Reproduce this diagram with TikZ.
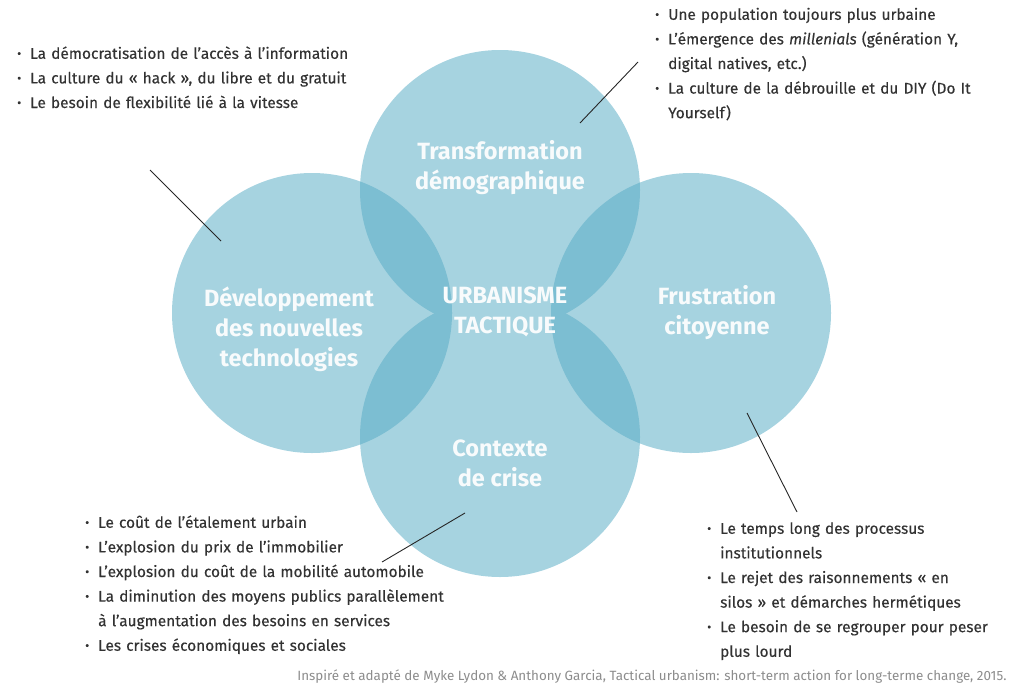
\documentclass[tikz,border=0pt]{standalone}
\usepackage{fontspec}
\setmainfont{Fira Sans}
\newfontfamily\bodyfont{Fira Sans}[FakeBold=0.3]
\usepackage{enumitem}
\usetikzlibrary{positioning}
\definecolor{venn}{RGB}{166,211,224}
\definecolor{vennlens}{RGB}{124,190,210}
\definecolor{txt}{RGB}{50,50,50}
\definecolor{src}{RGB}{140,140,140}
\setlist[itemize]{label={\raisebox{1pt}{\scalebox{0.8}{\textbullet}}},leftmargin=18pt,labelsep=9pt,itemsep=0pt,topsep=0pt,parsep=0pt,partopsep=0pt}
\tikzset{
  venn/.style={circle,minimum size=280pt,inner sep=0pt,fill=venn},
  circtext/.style={text=white!92!venn,font=\bfseries\fontsize{23.5}{30}\selectfont,align=center},
  bullets/.style={text=txt,font=\bodyfont\fontsize{15.4}{24.6}\selectfont,anchor=north west,inner sep=0pt,text width=#1},
  pointer/.style={draw=black!85,line width=0.9pt}
}

\begin{document}
\begin{tikzpicture}[x=1pt,y=-1pt]
  \useasboundingbox (0,0) rectangle (1014,688);
  \node[venn] (top) at (500,190) {};
  \node[venn] (left) at (312,313) {};
  \node[venn] (right) at (691,313) {};
  \node[venn] (bottom) at (500,437) {};
  \foreach \a/\b in {left/top,left/bottom,right/top,right/bottom} {
    \begin{scope}
      \clip (\a.center) circle (140pt);
      \fill[vennlens] (\b.center) circle (140pt);
    \end{scope}
  }

  \node[circtext] (toptext) at (500,168) {Transformation\\démographique};
  \node[circtext] (lefttext) at (289,329) {Développement\\des nouvelles\\technologies};
  \node[circtext] (righttext) at (717,313) {Frustration\\citoyenne};
  \node[circtext] (bottomtext) at (500,463) {Contexte\\de crise};
  \node[circtext] (core) at (505,312) {URBANISME\\TACTIQUE};

  \node[bullets=400pt] (techlist) at (12,34) {\begin{itemize}
    \item La démocratisation de l’accès à l’information
    \item La culture du « hack », du libre et du gratuit
    \item Le besoin de flexibilité lié à la vitesse
  \end{itemize}};
  \node[bullets=400pt] (demolist) at (650,-5) {\begin{itemize}
    \item Une population toujours plus urbaine
    \item L’émergence des \textit{millenials} (génération Y,\newline digital natives, etc.)
    \item La culture de la débrouille et du DIY (Do It\newline Yourself)
  \end{itemize}};
  \node[bullets=450pt] (crisislist) at (80,503) {\begin{itemize}
    \item Le coût de l’étalement urbain
    \item L’explosion du prix de l’immobilier
    \item L’explosion du coût de la mobilité automobile
    \item La diminution des moyens publics parallèlement\newline à l’augmentation des besoins en services
    \item Les crises économiques et sociales
  \end{itemize}};
  \node[bullets=360pt] (citlist) at (702,509) {\begin{itemize}
    \item Le temps long des processus\newline institutionnels
    \item Le rejet des raisonnements « en\newline silos » et démarches hermétiques
    \item Le besoin de se regrouper pour peser\newline plus lourd
  \end{itemize}};

  \node[anchor=base east,text=src,font=\fontsize{13.4}{15}\selectfont] (source) at (1010,680)
    {Inspiré et adapté de Myke Lydon \& Anthony Garcia, Tactical urbanism: short-term action for long-terme change, 2015.};

  \coordinate (p1a) at (150,170);
  \coordinate (p1b) at (221,241);
  \coordinate (p2a) at (638,62);
  \coordinate (p2b) at (580,123);
  \coordinate (p3a) at (465,513);
  \coordinate (p3b) at (382,562);
  \coordinate (p4a) at (747,413);
  \coordinate (p4b) at (797,512);
  \draw[pointer] (p1a) -- (p1b);
  \draw[pointer] (p2a) -- (p2b);
  \draw[pointer] (p3a) -- (p3b);
  \draw[pointer] (p4a) -- (p4b);
\end{tikzpicture}
\end{document}
